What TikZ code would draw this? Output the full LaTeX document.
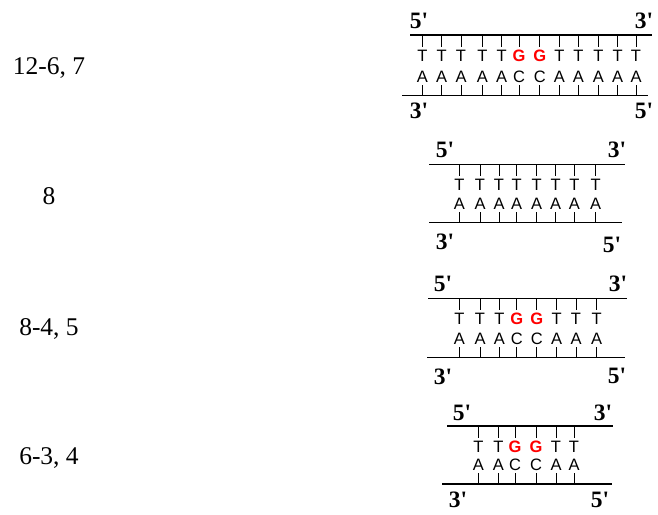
\documentclass[tikz,border=0pt]{standalone}
\usepackage{fontspec}
\setmainfont{Liberation Serif}
\newfontfamily\basefont{Liberation Sans}
\newcommand\dnapanel[4]{%
  \foreach \x/\t/\b/\s [count=\i] in {#4} {
    \node[base,\s] (#1t\i) at (\x,#2+21) {\t};
    \node[base] (#1b\i) at (\x,#3-19) {\b};
    \coordinate (#1u\i) at (\x,#2);
    \coordinate (#1d\i) at (\x,#3);
    \draw[tick] (#1u\i) -- ++(0,12);
    \draw[tick] (#1d\i) -- ++(0,-11);
  }%
}
\begin{document}
\begin{tikzpicture}[x=1pt,y=-1pt,
  strand/.style={line width=1.3pt},
  tick/.style={line width=1pt},
  base/.style={font=\basefont\fontsize{16.5}{16.5}\selectfont, inner sep=0pt, anchor=center},
  p/.style={},
  h/.style={text=red, font=\basefont\bfseries\fontsize{16.5}{16.5}\selectfont},
  endlab/.style={font=\bfseries\fontsize{23.5}{23.5}\selectfont, inner sep=0pt},
  rowlab/.style={font=\fontsize{25.5}{25.5}\selectfont, inner sep=0pt}]
\useasboundingbox (0,0) rectangle (658,514);

% row labels
\node[rowlab] (r1) at (49,68) {12-6, 7};
\node[rowlab] (r2) at (49,196) {8};
\node[rowlab] (r3) at (49,329) {8-4, 5};
\node[rowlab] (r4) at (49,458) {6-3, 4};

% panel 1
\coordinate (a1) at (410,35); \coordinate (a2) at (652,35);
\coordinate (a3) at (402,95.5); \coordinate (a4) at (648,95.5);
\draw[strand] (a1) -- (a2);
\draw[strand] (a3) -- (a4);
\node[endlab] (a5) at (419,21) {5\textquotesingle};
\node[endlab] (a6) at (644,21) {3\textquotesingle};
\node[endlab] (a7) at (419,111) {3\textquotesingle};
\node[endlab] (a8) at (644,111) {5\textquotesingle};
\dnapanel{a}{35}{95.5}{422.3/T/A/p,441.7/T/A/p,461/T/A/p,482.3/T/A/p,501.7/T/A/p,519/G/C/h,539.7/G/C/h,559.3/T/A/p,578.3/T/A/p,598.3/T/A/p,617.7/T/A/p,636/T/A/p}

% panel 2
\coordinate (b1) at (429,164.3); \coordinate (b2) at (625,164.3);
\coordinate (b3) at (429,222.7); \coordinate (b4) at (622,222.7);
\draw[strand] (b1) -- (b2);
\draw[strand] (b3) -- (b4);
\node[endlab] (b5) at (445,150) {5\textquotesingle};
\node[endlab] (b6) at (617,150) {3\textquotesingle};
\node[endlab] (b7) at (445,242) {3\textquotesingle};
\node[endlab] (b8) at (612,245) {5\textquotesingle};
\dnapanel{b}{164.3}{222.7}{459.3/T/A/p,480/T/A/p,499/T/A/p,516.7/T/A/p,536.7/T/A/p,555.7/T/A/p,574.3/T/A/p,595.7/T/A/p}

% panel 3
\coordinate (c1) at (428,298.3); \coordinate (c2) at (627,298.3);
\coordinate (c3) at (427,357.7); \coordinate (c4) at (625,357.7);
\draw[strand] (c1) -- (c2);
\draw[strand] (c3) -- (c4);
\node[endlab] (c5) at (443,284) {5\textquotesingle};
\node[endlab] (c6) at (618,284) {3\textquotesingle};
\node[endlab] (c7) at (443,377) {3\textquotesingle};
\node[endlab] (c8) at (617,376) {5\textquotesingle};
\dnapanel{c}{298.3}{357.7}{459.3/T/A/p,480/T/A/p,499.3/T/A/p,516.7/G/C/h,536.7/G/C/h,556.7/T/A/p,576/T/A/p,596.7/T/A/p}

% panel 4
\coordinate (d1) at (447,426); \coordinate (d2) at (613,426);
\coordinate (d3) at (442,484); \coordinate (d4) at (612,484);
\draw[strand] (d1) -- (d2);
\draw[strand] (d3) -- (d4);
\node[endlab] (d5) at (462,413) {5\textquotesingle};
\node[endlab] (d6) at (603,413) {3\textquotesingle};
\node[endlab] (d7) at (458,500) {3\textquotesingle};
\node[endlab] (d8) at (600,500) {5\textquotesingle};
\dnapanel{d}{426}{484}{478.3/T/A/p,498.3/T/A/p,515/G/C/h,536/G/C/h,556/T/A/p,574/T/A/p}
\end{tikzpicture}
\end{document}
